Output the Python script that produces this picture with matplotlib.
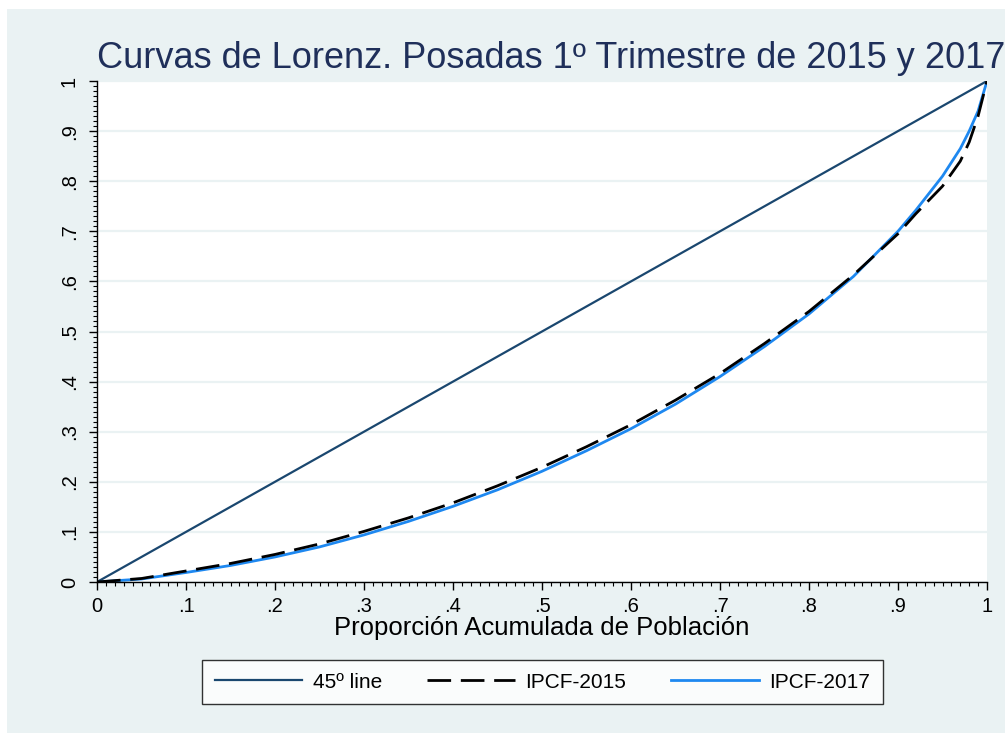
import matplotlib
matplotlib.use("Agg")
import matplotlib.pyplot as plt
from matplotlib.patches import Rectangle
from matplotlib.ticker import MultipleLocator

plt.rcParams["font.family"] = ["Liberation Sans", "DejaVu Sans"]

# cumulative population share (x) and cumulative income share (y)
pop_share = [0, .05, .10, .15, .20, .25, .30, .35, .40, .45, .50, .55, .60,
             .65, .70, .75, .80, .85, .90, .92, .95, .97, .98, .99, 1.0]
ipcf_2015 = [0, .007, .022, .037, .055, .076, .101, .128, .158, .192, .229, .270, .314,
             .363, .416, .476, .540, .613, .695, .735, .790, .840, .878, .930, 1.0]
ipcf_2017 = [0, .006, .019, .033, .050, .070, .094, .121, .151, .184, .221, .262, .306,
             .355, .410, .470, .535, .610, .700, .742, .810, .865, .900, .940, 1.0]
diag = [0, 1]

xticks = [0, .1, .2, .3, .4, .5, .6, .7, .8, .9, 1]
tick_labels = ["0", ".1", ".2", ".3", ".4", ".5", ".6", ".7", ".8", ".9", "1"]

BG = "#EAF2F3"
NAVY = "#1a476f"
TITLE = "#1f2f5a"
BLUE = "#1e88f0"

W, H = 1005, 733
fig = plt.figure(figsize=(W / 100, H / 100), dpi=100)
fig.patches.append(Rectangle((7 / W, 0), 1, (H - 9) / H, transform=fig.transFigure,
                             facecolor=BG, edgecolor="none", zorder=-10))

ax = fig.add_axes([97 / W, (H - 582) / H, 890 / W, 501 / H])
ax.set_facecolor("white")
ax.plot(diag, diag, color=NAVY, lw=1.6, label="45º line")
ax.plot(pop_share, ipcf_2015, color="black", lw=2.0, ls=(0, (8.5, 3.5)), label="IPCF-2015")
ax.plot(pop_share, ipcf_2017, color=BLUE, lw=2.0, label="IPCF-2017", zorder=1.9)

ax.set_xlim(0, 1)
ax.set_ylim(0, 1)
ax.set_xticks(xticks, tick_labels)
ax.set_yticks(xticks, tick_labels)
ax.xaxis.set_minor_locator(MultipleLocator(0.01))
ax.yaxis.set_minor_locator(MultipleLocator(0.01))
ax.tick_params(which="major", length=6, width=1, labelsize=14.5, color="black", pad=5)
ax.tick_params(which="minor", length=3, width=0.8, color="black")
ax.tick_params(axis="y", labelrotation=90, pad=7)
for lbl in ax.get_yticklabels():
    lbl.set_va("center")
ax.grid(axis="y", which="major", color=BG, lw=1.6)
ax.set_axisbelow(True)
for s in ("top", "right"):
    ax.spines[s].set_visible(False)
for s in ("left", "bottom"):
    ax.spines[s].set_linewidth(1.0)

ax.set_xlabel("Proporción Acumulada de Población", fontsize=18.5, labelpad=0)
fig.text(551 / W, (H - 58) / H, "Curvas de Lorenz. Posadas 1º Trimestre de 2015 y 2017",
         ha="center", va="center", fontsize=26, color=TITLE)

leg = fig.legend(loc="center", ncol=3, mode="expand",
                 bbox_to_anchor=(192 / W, (H - 706) / H, 701 / W, 48 / H),
                 fontsize=15, handlelength=4.2, frameon=True, fancybox=False,
                 edgecolor="black", borderpad=0.6, handletextpad=0.5)
leg.get_frame().set_linewidth(1.0)

fig.savefig("out.png", dpi=100)
